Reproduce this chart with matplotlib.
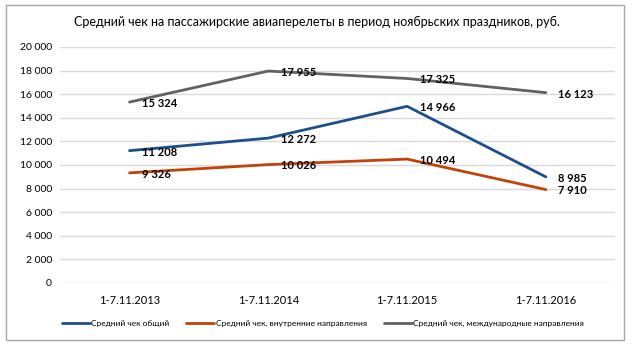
import matplotlib
matplotlib.use('Agg')
import matplotlib.pyplot as plt
from matplotlib.patches import Rectangle
import numpy as np

plt.rcParams['font.family'] = ['Liberation Sans Narrow', 'Lato', 'DejaVu Sans']

TITLE = 'Средний чек на пассажирские авиаперелеты в период ноябрьских праздников, руб.'
PERIODS = ['1-7.11.2013', '1-7.11.2014', '1-7.11.2015', '1-7.11.2016']
TOTAL = [11208, 12272, 14966, 8985]
DOMESTIC = [9326, 10026, 10494, 7910]
INTERNATIONAL = [15324, 17955, 17325, 16123]
SERIES_NAMES = ['Средний чек общий',
                'Средний чек, внутренние направления',
                'Средний чек, международные направления']
Y_TICKS = [0, 2000, 4000, 6000, 8000, 10000, 12000, 14000, 16000, 18000, 20000]


def fmt(v):
    # thousands separated by a space, as in Russian notation
    return f'{v:,}'.replace(',', ' ')


fig = plt.figure(figsize=(6.33, 3.45), dpi=100)
fig.patch.set_facecolor('white')
fig.patches.append(Rectangle((0.009, 0.014), 0.977, 0.972, transform=fig.transFigure,
                             fill=False, edgecolor='#a6a6a6', linewidth=1.0))

ax = fig.add_axes([0.095, 0.180, 0.877, 0.684])
x = np.arange(len(PERIODS))
colors = ['#1f4e8c', '#c0440a', '#616161']
series = [TOTAL, DOMESTIC, INTERNATIONAL]
for vals, color, name in zip(series, colors, SERIES_NAMES):
    ax.plot(x, vals, color=color, linewidth=2.0, label=name, solid_capstyle='round')
    for xi, v in zip(x, vals):
        ax.annotate(fmt(v), (xi, v), xytext=(9, -1), textcoords='offset points',
                    ha='left', va='center', fontsize=8, fontweight='bold', color='black')

ax.set_xlim(-0.5, len(PERIODS) - 0.5)
ax.set_ylim(0, 20000)
ax.set_yticks(Y_TICKS)
ax.set_yticklabels([fmt(t) for t in Y_TICKS], fontsize=7.5)
ax.set_xticks(x)
ax.set_xticklabels(PERIODS, fontsize=8)
ax.tick_params(length=0, pad=6)
ax.tick_params(axis='x', pad=9)
ax.grid(axis='y', color='#d9d9d9', linewidth=1.0)
ax.set_axisbelow(True)
for s in ax.spines.values():
    s.set_visible(False)

fig.text(0.5, 0.935, TITLE, ha='center', va='center', fontsize=9)

fig.legend(loc='center', bbox_to_anchor=(0.51, 0.062), ncol=3, frameon=False,
           fontsize=6, handlelength=3.4, handletextpad=0.15, columnspacing=2.0)

fig.savefig('out.png', dpi=100)
